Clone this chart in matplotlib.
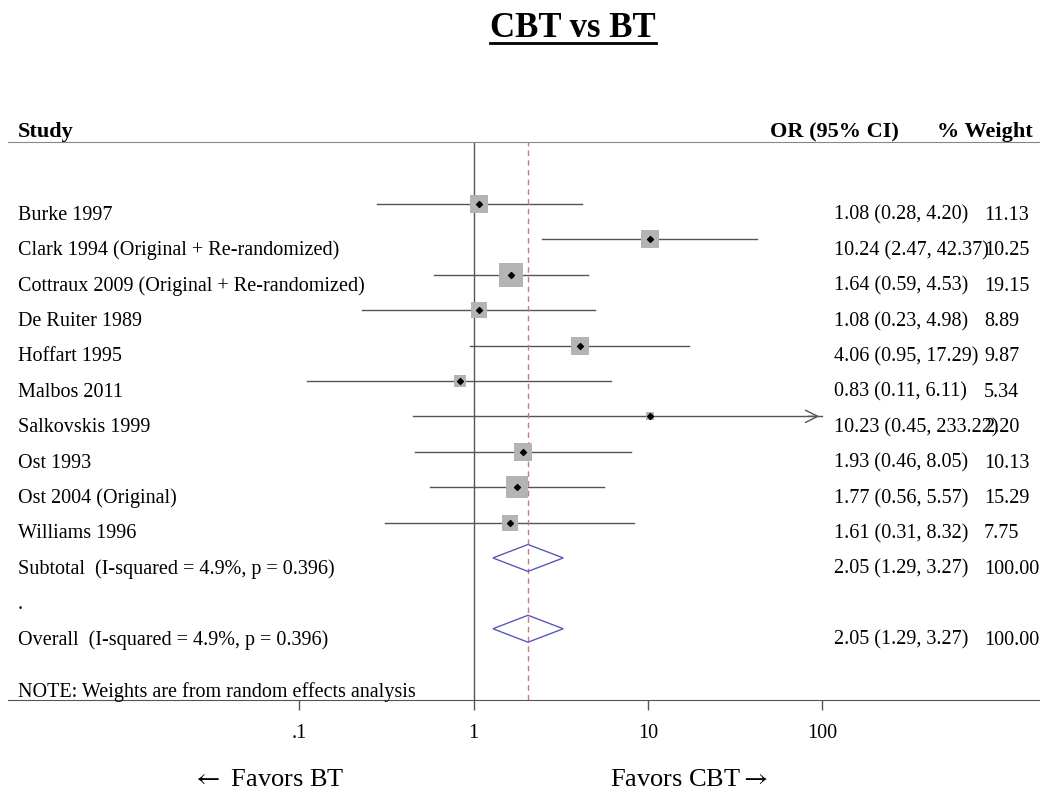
# coding:utf8

"""
forest plot: CBT vs BT
"""
import matplotlib
matplotlib.use("Agg")
from matplotlib import pyplot as plt
from matplotlib.lines import Line2D

plt.rcParams['font.family'] = ['Liberation Serif', 'DejaVu Serif']
plt.rcParams['mathtext.fontset'] = 'stix'

studies = ['Burke 1997', 'Clark 1994 (Original + Re-randomized)',
           'Cottraux 2009 (Original + Re-randomized)', 'De Ruiter 1989',
           'Hoffart 1995', 'Malbos 2011', 'Salkovskis 1999', 'Ost 1993',
           'Ost 2004 (Original)', 'Williams 1996']
odds = [1.08, 10.24, 1.64, 1.08, 4.06, 0.83, 10.23, 1.93, 1.77, 1.61]
ci_low = [0.28, 2.47, 0.59, 0.23, 0.95, 0.11, 0.45, 0.46, 0.56, 0.31]
ci_high = [4.20, 42.37, 4.53, 4.98, 17.29, 6.11, 233.22, 8.05, 5.57, 8.32]
weights = [11.13, 10.25, 19.15, 8.89, 9.87, 5.34, 2.20, 10.13, 15.29, 7.75]

pooled_or = 2.05
pooled_low = 1.29
pooled_high = 3.27
het_text = '(I-squared = 4.9%, p = 0.396)'

tick_vals = [0.1, 1, 10, 100]
tick_labels = ['.1', '1', '10', '100']
x_max = 100

W, H = 1040, 792
fig = plt.figure(figsize=(W / 100, H / 100), dpi=100)
ax = fig.add_axes([8 / W, 1 - 700 / H, 1 - 8 / W, (700 - 142) / H])

row_font = 14.5
grey = '#555555'

# study rows
n = len(studies)
for i in range(n):
    y = i
    lo, hi = ci_low[i], ci_high[i]
    if hi > x_max:
        ax.plot([lo, x_max], [y, y], color=grey, lw=1)
        ax.annotate('', xy=(x_max, y), xytext=(x_max * 0.8, y),
                    arrowprops=dict(arrowstyle='->', color=grey, lw=1,
                                    mutation_scale=22))
    else:
        ax.plot([lo, hi], [y, y], color=grey, lw=1)
    ax.scatter([odds[i]], [y], marker='s', s=15.2 * weights[i],
               color='#b4b4b4', zorder=3, linewidths=0)
    ax.scatter([odds[i]], [y], marker='D', s=9, color='black', zorder=4)

# pooled diamonds
rows_pool = [n, n + 2]
for y in rows_pool:
    ax.fill([pooled_low, pooled_or, pooled_high, pooled_or],
            [y, y - 0.38, y, y + 0.38], facecolor='none',
            edgecolor='#5a5ab4', lw=1, zorder=3)

# reference lines
ax.axvline(1, color=grey, lw=1)
ax.axvline(pooled_or, color='#c8788c', lw=1, ls=(0, (4, 3)))

# text columns
tr = ax.get_yaxis_transform()
x_lab = (18 - 8) / (W - 8)
x_or = (834 - 8) / (W - 8)
x_w = (984 - 8) / (W - 8)
dy = 0.45
for i in range(n):
    ax.text(x_lab, i + dy, studies[i], transform=tr, fontsize=row_font,
            va='baseline')
    ax.text(x_or, i + dy, '%.2f (%.2f, %.2f)' % (odds[i], ci_low[i], ci_high[i]),
            transform=tr, fontsize=row_font, va='baseline')
    ax.text(x_w, i + dy, '%.2f' % weights[i], transform=tr,
            fontsize=row_font, va='baseline')

pool_text = '%.2f (%.2f, %.2f)' % (pooled_or, pooled_low, pooled_high)
ax.text(x_lab, n + dy, 'Subtotal  ' + het_text, transform=tr,
        fontsize=row_font, va='baseline')
ax.text(x_lab, n + 1 + dy, '.', transform=tr, fontsize=row_font, va='baseline')
ax.text(x_lab, n + 2 + dy, 'Overall  ' + het_text, transform=tr,
        fontsize=row_font, va='baseline')
for y in rows_pool:
    ax.text(x_or, y + dy, pool_text, transform=tr, fontsize=row_font,
            va='baseline')
    ax.text(x_w, y + dy, '100.00', transform=tr, fontsize=row_font,
            va='baseline')
ax.text(x_lab, n + 3.93, 'NOTE: Weights are from random effects analysis',
        transform=tr, fontsize=row_font, va='baseline')

# axes
per_dec = 174.2
ax.set_xscale('log')
ax.set_xlim(10 ** (-1 - (299.5 - 8) / per_dec), 10 ** (2 + (W - 822) / per_dec))
ax.set_ylim(-1.75 + (700 - 142) / 35.4, -1.75)
ax.set_xticks(tick_vals)
ax.set_xticklabels(tick_labels, fontsize=14.5)
ax.xaxis.set_minor_locator(matplotlib.ticker.NullLocator())
ax.tick_params(axis='x', direction='out', length=7, width=1, color=grey, pad=10)
ax.set_yticks([])
for s in ['left', 'right']:
    ax.spines[s].set_visible(False)
ax.spines['top'].set_color('#888888')
ax.spines['bottom'].set_color(grey)

# header
fig.text(18 / W, 1 - 137 / H, 'Study', fontsize=16, fontweight='bold')
fig.text(770 / W, 1 - 137 / H, 'OR (95% CI)', fontsize=16, fontweight='bold')
fig.text(937 / W, 1 - 137 / H, '% Weight', fontsize=16, fontweight='bold')

# title with underline
title = fig.text(573 / W, 1 - 37 / H, 'CBT vs BT', fontsize=25,
                 fontweight='bold', ha='center', va='baseline')
fig.canvas.draw()
bb = title.get_window_extent()
fig.add_artist(Line2D([bb.x0 / W, bb.x1 / W], [1 - 43 / H, 1 - 43 / H],
                      transform=fig.transFigure, color='black', lw=2))

# favors labels
fig.text(268 / W, 1 - 780 / H, r'$\leftarrow$ Favors BT', fontsize=19,
         ha='center', va='center')
fig.text(689 / W, 1 - 780 / H, r'Favors CBT$\rightarrow$', fontsize=19,
         ha='center', va='center')

fig.savefig('out.png', dpi=100)
